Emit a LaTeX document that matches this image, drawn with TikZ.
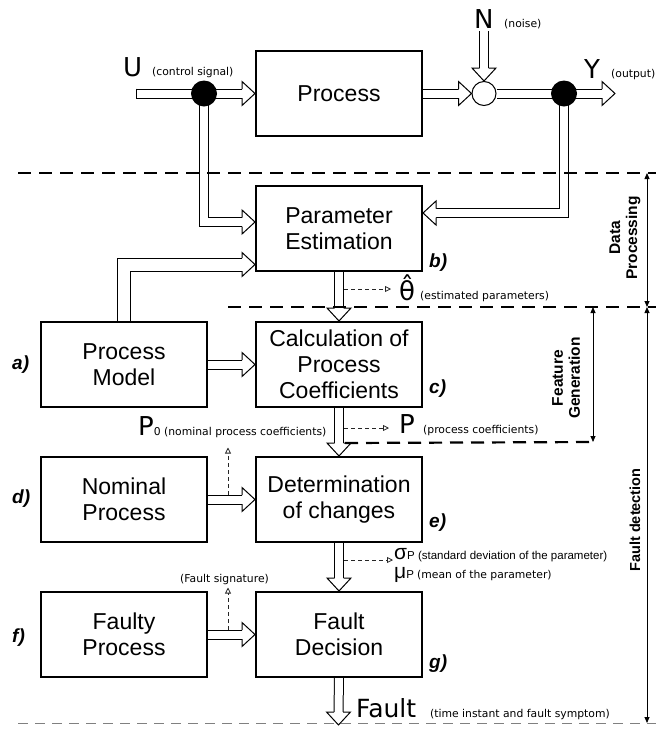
\documentclass[tikz,border=0pt]{standalone}
\usepackage{fontspec}
\setmainfont{Liberation Sans}
\newfontfamily\notefont{DejaVu Sans}
\usetikzlibrary{positioning, calc, arrows.meta, backgrounds}

\begin{document}
\begin{tikzpicture}[
        x=1pt, y=1pt,
        node distance=48pt and 47pt,
        block/.style={rectangle, draw, line width=1.6pt, minimum width=166.4pt, minimum height=85.4pt, inner sep=0pt, align=center, font=\fontsize{23}{26}\selectfont},
        tag/.style={anchor=base west, inner sep=0pt, font=\fontsize{19}{22}\selectfont\bfseries\itshape},
        sym/.style={anchor=base west, inner sep=0pt, font=\notefont\fontsize{26}{28}\selectfont},
        note/.style={anchor=base west, inner sep=0pt, font=\notefont\fontsize{10.8}{12}\selectfont},
        hollow/.style={double, double distance=8pt, line width=1pt, line join=miter},
        wide/.style={hollow, double distance=12pt},
        sig/.style={black!85, line width=0.8pt, dash pattern=on 4pt off 3pt, -{Triangle[open, length=6pt, width=6pt]}},
        sepline/.style={line width=2.2pt, dash pattern=on 13pt off 8pt},
        span/.style={line width=0.8pt, {Triangle[length=6pt, width=5pt]}-{Triangle[length=6pt, width=5pt]}},
        dimtext/.style={rotate=90, align=center, font=\fontsize{15.5}{17}\selectfont\bfseries},
        pics/hhead/.style={code={
            \fill[white] (-13,12) -- (0,0) -- (-13,-12) -- cycle;
            \draw[line width=1pt, line join=miter] (-13,#1) -- (-13,12) -- (0,0) -- (-13,-12) -- (-13,-#1);
        }}
    ]
    \useasboundingbox (0,0) rectangle (662,-732);

    % Blocks
    \node[block] (proc) at (339,-93.5) {Process};
    \node[block, below=of proc] (pe) {Parameter\\Estimation};
    \node[block, below=49pt of pe] (coef) {Calculation of\\Process\\Coefficients};
    \node[block, below=of coef] (determ) {Determination\\of changes};
    \node[block, below=of determ] (decision) {Fault\\Decision};
    \node[block, left=of coef] (model) {Process\\Model};
    \node[block, left=of determ] (nominal) {Nominal\\Process};
    \node[block, left=of decision] (faulty) {Faulty\\Process};

    % Junctions
    \coordinate (uin) at (136,-93.5);
    \coordinate (nin) at (484,-31);
    \coordinate (yout) at (615,-93.5);
    \coordinate (fout) at (338.5,-725);
    \node[circle, fill, inner sep=0pt, minimum size=26pt] (udot) at (204,-93.5) {};
    \node[circle, draw, fill=white, line width=1pt, inner sep=0pt, minimum size=24pt] (sum) at (484,-93.5) {};
    \node[circle, fill, inner sep=0pt, minimum size=26pt] (ydot) at (564,-93.5) {};

    % Signal flow
    \begin{scope}[on background layer]
    \draw[hollow] (uin) -- ([xshift=-13]proc.west);
    \draw[hollow] (proc.east) -- ([xshift=-13]sum.west);
    \draw[hollow] (nin) -- ([yshift=13]sum.north);
    \draw[hollow] (sum.east) -- ([xshift=-13]yout);
    \draw[hollow] (udot.center) |- ([xshift=-13,yshift=6.5]pe.west);
    \draw[hollow] (ydot.center) |- ([xshift=13,yshift=15.5]pe.east);
    \draw[wide] (model.north) |- ([xshift=-13,yshift=-36]pe.west);
    \draw[hollow] (pe.south) -- ([yshift=13]coef.north);
    \draw[hollow] (model.east) -- ([xshift=-13]coef.west);
    \draw[hollow] (coef.south) -- ([yshift=13]determ.north);
    \draw[hollow] (nominal.east) -- ([xshift=-13]determ.west);
    \draw[hollow] (determ.south) -- ([yshift=13]decision.north);
    \draw[hollow] (faulty.east) -- ([xshift=-13]decision.west);
    \draw[hollow] (decision.south) -- ([yshift=13]fout);
    \end{scope}
    \draw[line width=1pt] ([xshift=0.5,yshift=5]uin) -- ([xshift=0.5,yshift=-5]uin);

    \pic at (proc.west) {hhead=4.5};
    \pic at (sum.west) {hhead=4.5};
    \pic[rotate=-90] at (sum.north) {hhead=4.5};
    \pic at (yout) {hhead=4.5};
    \pic at ([yshift=6.5]pe.west) {hhead=4.5};
    \pic[rotate=180] at ([yshift=15.5]pe.east) {hhead=4.5};
    \pic at ([yshift=-36]pe.west) {hhead=6.5};
    \pic[rotate=-90] at (coef.north) {hhead=4.5};
    \pic at (coef.west) {hhead=4.5};
    \pic[rotate=-90] at (determ.north) {hhead=4.5};
    \pic at (determ.west) {hhead=4.5};
    \pic[rotate=-90] at (decision.north) {hhead=4.5};
    \pic at (decision.west) {hhead=4.5};
    \pic[rotate=-90] at (fout) {hhead=4.5};

    % Signals and features
    \node[sym] (ulab) at (123,-76) {U};
    \node[note] (unote) at (152,-75) {(control signal)};
    \node[sym] (nlab) at (474,-28) {N};
    \node[note] (nnote) at (504,-27) {(noise)};
    \node[sym] (ylab) at (584,-78) {Y};
    \node[note] (ynote) at (611,-77) {(output)};
    \node[sym] (theta) at (399,-300) {θ̂};
    \node[note] (thnote) at (420,-299) {(estimated parameters)};
    \node[sym] (plab) at (399,-433) {P};
    \node[note] (pnote) at (423,-433) {(process coefficients)};
    \node[sym] (p0lab) at (138,-435) {P{\fontsize{10.8}{12}\selectfont 0 (nominal process coefficients)}};
    \node[anchor=base west, inner sep=0pt] (sigma) at (394,-559) {{\fontsize{21}{22}\selectfont σ}{\fontsize{11.5}{12}\selectfont P (standard deviation of the parameter)}};
    \node[anchor=base west, inner sep=0pt] (mu) at (394,-578) {{\fontsize{21}{22}\selectfont μ}{\fontsize{11.5}{12}\selectfont P \notefont\fontsize{10.8}{12}\selectfont (mean of the parameter)}};
    \node[note] (signote) at (180,-582) {(Fault signature)};
    \node[sym, font=\notefont\fontsize{25}{27}\selectfont] (faultlab) at (356,-717) {Fault};
    \node[note] (faultnote) at (430,-717) {(time instant and fault symptom)};

    \draw[sig] ($(pe.south)+(5,-17)$) -- ++(47,0);
    \draw[sig] ($(coef.south)+(5,-20)$) -- ++(45,0);
    \draw[sig] ($(determ.south)+(5,-17)$) -- ++(49,0);
    \draw[sig] ($(nominal.east)+(20,5)$) -- ++(0,47);
    \draw[sig] ($(faulty.east)+(20,5)$) -- ++(0,42);

    % Block labels
    \node[tag] (ta) at (12,-369) {a)};
    \node[tag] (tb) at (429,-267) {b)};
    \node[tag] (tc) at (429,-393) {c)};
    \node[tag] (td) at (12,-503) {d)};
    \node[tag] (te) at (429,-527) {e)};
    \node[tag] (tf) at (12,-642) {f)};
    \node[tag] (tg) at (429,-668) {g)};

    % Stages
    \coordinate (dptop) at (647,-173);
    \coordinate (dpbot) at (647,-307);
    \coordinate (fdbot) at (647,-723);
    \coordinate (fgtop) at (593,-307);
    \coordinate (fgbot) at (593,-442);
    \draw[sepline] (18,-173) -- (656,-173);
    \draw[sepline] (228,-307) -- (656,-307);
    \draw[sepline] ($(coef.south)+(6,-35)$) -- (fgbot);
    \draw[gray, line width=1pt, dash pattern=on 10pt off 7pt] (18,-723) -- (656,-723);
    \draw[span] (dptop) -- (dpbot);
    \draw[span] (dpbot) -- (fdbot);
    \draw[span] (fgtop) -- (fgbot);
    \node[dimtext] (dplab) at (625,-238) {Data\\Processing};
    \node[dimtext] (fglab) at (566,-378) {Feature\\Generation};
    \node[dimtext, font=\fontsize{14.5}{16}\selectfont\bfseries] (fdlab) at (635,-520) {Fault detection};

\end{tikzpicture}
\end{document}
